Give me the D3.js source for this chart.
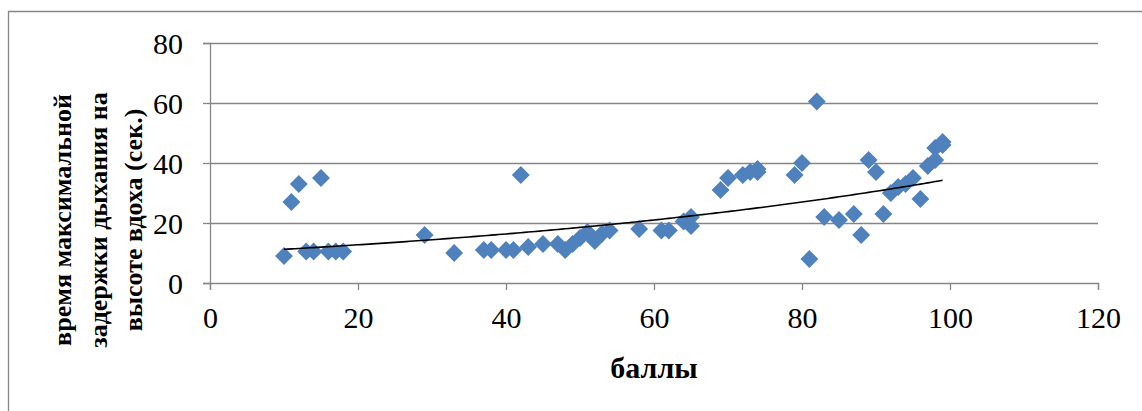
<!DOCTYPE html>
<html>
<head>
<meta charset="utf-8">
<script src="https://cdn.jsdelivr.net/npm/d3@7"></script>
<style>
  html, body { margin: 0; padding: 0; background: #fff; }
  svg { display: block; }
  text, tspan { font-family: "Liberation Serif", "DejaVu Serif", serif; fill: #000; }
</style>
</head>
<body>
<svg id="chart" width="1142" height="411"></svg>
<script>
// Scores (x) and the matching breath-hold time at inhalation height, seconds (y)
const scores = [10, 11, 12, 13, 14, 15, 16, 17, 18,
  29, 33, 37, 38, 40, 41, 42, 43, 45,
  47, 48, 49, 50, 51, 52, 53, 54,
  58, 61, 62, 64, 65, 65,
  69, 70, 72, 73, 74, 74,
  79, 80, 81, 82, 83, 85, 87, 88,
  89, 90, 91, 92, 93, 94, 95, 96,
  97, 98, 98, 99, 99];
const holdTimes = [9, 27, 33, 10.5, 10.5, 35, 10.5, 10.5, 10.5,
  16, 10, 11, 11, 11, 11, 36, 12, 13,
  13, 11, 13, 15, 17, 14, 16.5, 17.5,
  18, 17.5, 17.5, 20.5, 22, 19,
  31, 35, 36, 37, 37, 38,
  36, 40, 8, 60.5, 22, 21, 23, 16,
  41, 37, 23, 30, 32, 33, 35, 28,
  39, 41, 45, 47, 46];

const xTicks = [0, 20, 40, 60, 80, 100, 120];
const yTicks = [0, 20, 40, 60, 80];
const xTitle = "баллы";
const yTitleLines = ["время максимальной", "задержки дыхания на", "высоте вдоха (сек.)"];

const serif = '"Liberation Serif", "DejaVu Serif", serif';
const svg = d3.select("#chart");
const x = d3.scaleLinear().domain([0, 120]).range([210, 1098]);
const y = d3.scaleLinear().domain([0, 80]).range([283, 43]);

const gridColor = "#868686";

// outer chart frame (runs off the right and bottom edges)
svg.append("path")
  .attr("d", "M8.5,420 V11.5 H1150")
  .attr("fill", "none").attr("stroke", gridColor).attr("stroke-width", 1.3);

// horizontal gridlines
svg.append("g").selectAll("line").data(yTicks.filter(d => d > 0)).join("line")
  .attr("x1", x(0)).attr("x2", x(120))
  .attr("y1", d => Math.round(y(d)) + 0.5).attr("y2", d => Math.round(y(d)) + 0.5)
  .attr("stroke", gridColor).attr("stroke-width", 1.3);

// y axis
const yAxis = svg.append("g")
  .attr("transform", `translate(${x(0)},0)`)
  .call(d3.axisLeft(y).tickValues(yTicks).tickSize(7).tickPadding(20));
// x axis
const xAxis = svg.append("g")
  .attr("transform", `translate(0,${y(0)})`)
  .call(d3.axisBottom(x).tickValues(xTicks).tickSize(7).tickPadding(15));

[yAxis, xAxis].forEach(g => {
  g.attr("font-family", null);
  g.select(".domain").attr("stroke", gridColor).attr("stroke-width", 1.3);
  g.selectAll(".tick line").attr("stroke", gridColor).attr("stroke-width", 1.3);
  g.selectAll(".tick text")
    .style("font-family", serif)
    .style("font-size", "30px").attr("fill", "#000");
});
yAxis.selectAll(".tick text").attr("dy", "0.35em");
xAxis.selectAll(".tick text").attr("dy", "0.75em");

// exponential trendline fitted on ln(y) by least squares
const lx = scores, ly = holdTimes.map(Math.log);
const mx = d3.mean(lx), my = d3.mean(ly);
const b = d3.sum(lx, (v, i) => (v - mx) * (ly[i] - my)) / d3.sum(lx, v => (v - mx) ** 2);
const a = Math.exp(my - b * mx);
const xs = d3.range(d3.min(scores), d3.max(scores) + 0.01, 0.5);
const trend = d3.line().x(d => x(d)).y(d => y(a * Math.exp(b * d)));

// data markers (diamonds)
const diamond = d3.symbol(d3.symbolSquare, 160);
svg.append("g").selectAll("path").data(scores).join("path")
  .attr("d", diamond)
  .attr("transform", (d, i) => `translate(${x(d)},${y(holdTimes[i])}) rotate(45)`)
  .attr("fill", "#4F81BD");

// trendline on top of the markers
svg.append("path")
  .datum(xs)
  .attr("d", trend)
  .attr("fill", "none").attr("stroke", "#000").attr("stroke-width", 1.6);

// axis titles
svg.append("text")
  .attr("x", (x(0) + x(120)) / 2).attr("y", 378)
  .attr("text-anchor", "middle")
  .style("font-family", serif)
  .style("font-size", "30px").style("font-weight", "bold")
  .text(xTitle);

const yt = svg.append("text")
  .attr("transform", "translate(71,220) rotate(-90)")
  .attr("text-anchor", "middle")
  .style("font-family", serif)
  .style("font-size", "26px").style("font-weight", "bold");
yTitleLines.forEach((line, i) => {
  yt.append("tspan").attr("x", 0).attr("y", i * 35.5).text(line);
});
</script>
</body>
</html>
